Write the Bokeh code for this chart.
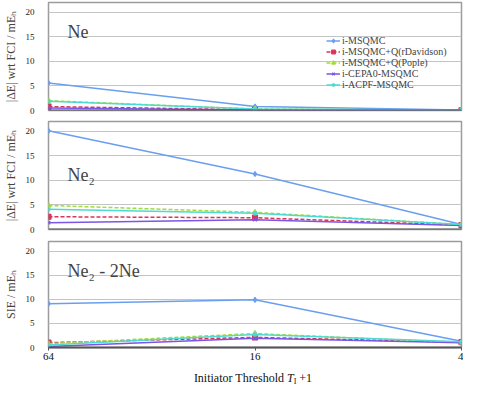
from bokeh.plotting import figure
from bokeh.layouts import column
from bokeh.models import Label, Legend, LegendItem, Range1d, FixedTicker, Span, Div
from bokeh.embed import file_html
from bokeh.resources import INLINE

# ---------------- data ----------------
thresholds = ["64", "16", "4"]
xpos = [0, 1, 2]
series_names = ["i-MSQMC", "i-MSQMC+Q(rDavidson)", "i-MSQMC+Q(Pople)",
                "i-CEPA0-MSQMC", "i-ACPF-MSQMC"]

# Ne : |dE| wrt FCI / mEh
ne_msqmc = [5.6, 0.8, 0.1]
ne_rdavidson = [0.8, 0.15, 0.05]
ne_pople = [2.0, 0.3, 0.05]
ne_cepa0 = [0.5, 0.1, 0.05]
ne_acpf = [1.9, 0.3, 0.1]

# Ne2 : |dE| wrt FCI / mEh
ne2_msqmc = [20.1, 11.3, 1.0]
ne2_rdavidson = [2.6, 2.4, 0.9]
ne2_pople = [4.9, 3.5, 1.0]
ne2_cepa0 = [1.4, 2.0, 0.8]
ne2_acpf = [4.1, 3.3, 1.0]

# Ne2 - 2Ne : SIE / mEh
sie_msqmc = [9.1, 9.9, 1.3]
sie_rdavidson = [1.0, 2.1, 1.1]
sie_pople = [0.8, 2.9, 1.0]
sie_cepa0 = [0.2, 1.9, 1.0]
sie_acpf = [0.5, 2.7, 1.2]

y_ticks = [0, 5, 10, 15, 20]

# ---------------- styles ----------------
colors = ["#6a9ff0", "#d8345c", "#a2dc3c", "#7a56e6", "#4edad2"]
dashes = ["solid", "4 2", "4 2", "solid", "solid"]
markers = ["diamond", "square", "triangle", "x", "asterisk"]
SERIF = "Liberation Serif"


def make_fig(height, top, bottom, ylabel, show_x):
    p = figure(width=463, height=height, x_range=Range1d(0, 2), y_range=Range1d(0, 22),
               output_backend="svg", toolbar_location=None,
               min_border_left=35, min_border_right=2,
               min_border_top=top, min_border_bottom=bottom)
    p.outline_line_color = "#9c9c9c"
    p.outline_line_width = 1.5
    p.xgrid.grid_line_color = None
    p.ygrid.grid_line_color = "#c4c4c4"
    p.ygrid.grid_line_width = 1
    p.yaxis.ticker = FixedTicker(ticks=y_ticks)
    p.yaxis.axis_line_color = None
    p.yaxis.major_tick_line_color = None
    p.yaxis.minor_tick_line_color = None
    p.yaxis.major_label_text_font = SERIF
    p.yaxis.major_label_text_font_size = "9px"
    p.yaxis.major_label_text_color = "#222222"
    p.yaxis.major_label_standoff = 8
    p.yaxis.axis_label = ylabel
    p.yaxis.axis_label_text_font = SERIF
    p.yaxis.axis_label_text_font_size = "12px"
    p.yaxis.axis_label_text_font_style = "normal"
    p.yaxis.axis_label_standoff = 5
    if show_x:
        p.xaxis.ticker = FixedTicker(ticks=xpos)
        p.xaxis.major_label_overrides = {x: t for x, t in zip(xpos, thresholds)}
        p.xaxis.axis_line_color = "#555555"
        p.xaxis.axis_line_width = 2
        p.xaxis.major_tick_line_color = "#555555"
        p.xaxis.major_tick_out = 3
        p.xaxis.major_tick_in = 0
        p.xaxis.minor_tick_line_color = None
        p.xaxis.major_label_text_font = SERIF
        p.xaxis.major_label_text_font_size = "11px"
        p.xaxis.major_label_text_color = "#111111"
        p.xaxis.major_label_standoff = 2
    else:
        p.xaxis.visible = False
        p.add_layout(Span(location=0, dimension="width", line_color="#555555", line_width=2))
    return p


def draw(p, data):
    items = []
    for name, ys, c, d, m in zip(series_names, data, colors, dashes, markers):
        r1 = p.line(xpos, ys, line_color=c, line_width=1.5, line_dash=d)
        r2 = p.scatter(xpos, ys, marker=m, size=5, line_color=c, fill_color=c, line_width=1.2)
        items.append(LegendItem(label=name, renderers=[r1, r2]))
    return items


p1 = make_fig(117, 2, 7, "|ΔE| wrt FCI / mEₕ", False)
items = draw(p1, [ne_msqmc, ne_rdavidson, ne_pople, ne_cepa0, ne_acpf])
leg = Legend(items=items, location=(278, 20))
leg.label_text_font = SERIF
leg.label_text_font_size = "10px"
leg.label_height = 9
leg.glyph_height = 9
leg.glyph_width = 14
leg.label_standoff = 2
leg.spacing = 0
leg.padding = 0
leg.margin = 0
leg.border_line_color = None
leg.background_fill_alpha = 0
p1.add_layout(leg, "center")
p1.add_layout(Label(x=0, y=16.0, x_offset=19, text="Ne", text_font=SERIF,
                    text_font_size="18px", text_baseline="alphabetic"))

p2 = make_fig(119, 4, 7, "|ΔE| wrt FCI / mEₕ", False)
draw(p2, [ne2_msqmc, ne2_rdavidson, ne2_pople, ne2_cepa0, ne2_acpf])
p2.add_layout(Label(x=0, y=11.1, x_offset=19, text="Ne₂", text_font=SERIF,
                    text_font_size="18px", text_baseline="alphabetic"))

p3 = make_fig(129, 5, 18, "SIE / mEₕ", True)
draw(p3, [sie_msqmc, sie_rdavidson, sie_pople, sie_cepa0, sie_acpf])
p3.add_layout(Label(x=0, y=15.9, x_offset=19, text="Ne₂ - 2Ne", text_font=SERIF,
                    text_font_size="18px", text_baseline="alphabetic"))

xtitle = Div(
    text=('<div style="font-family:\'Liberation Serif\';font-size:12px;line-height:14px;'
          'text-align:center;width:426px;margin-left:35px;white-space:nowrap;color:#111">'
          'Initiator Threshold <i>T</i><span style="font-size:8px;position:relative;top:2px">I</span> +1'
          '</div>'),
    width=463, height=14)

layout = column(p1, p2, p3, xtitle, spacing=0)
open("out.html", "w").write(file_html(layout, INLINE))
